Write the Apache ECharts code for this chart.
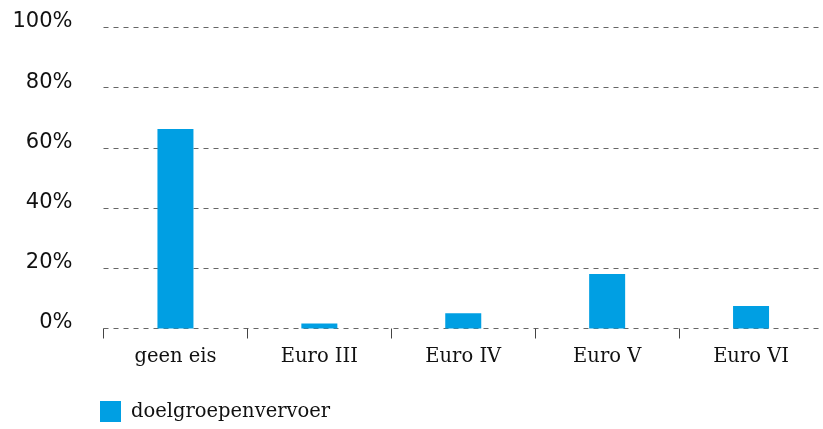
<!DOCTYPE html>
<html>
<head>
<meta charset="utf-8">
<script src="https://cdn.jsdelivr.net/npm/echarts@6/dist/echarts.min.js"></script>
<style>
  html, body { margin: 0; padding: 0; background: #fff; }
  #chart { width: 823px; height: 429px; }
</style>
</head>
<body>
<div id="chart"></div>
<script>
// categorieën en waarden (% van voertuigen)
var categories = ['geen eis', 'Euro III', 'Euro IV', 'Euro V', 'Euro VI'];
var seriesName = 'doelgroepenvervoer';
var values = [66.3, 1.7, 5.1, 18.1, 7.5];
var yTicks = [0, 20, 40, 60, 80, 100];

var chart = echarts.init(document.getElementById('chart'), null, { renderer: 'canvas' });

var option = {
  animation: false,
  backgroundColor: '#ffffff',
  grid: {
    left: 103.5,
    top: 27.5,
    width: 725,
    height: 301
  },
  legend: {
    left: 100,
    top: 401,
    padding: 0,
    itemWidth: 21,
    itemHeight: 21,
    icon: 'rect',
    data: [seriesName],
    textStyle: {
      fontFamily: 'DejaVu Serif',
      fontSize: 19.5,
      color: '#111',
      padding: [0, 0, 0, 5]
    }
  },
  xAxis: {
    type: 'category',
    data: categories,
    axisLine: { show: false },
    axisTick: {
      show: true,
      length: 10,
      lineStyle: { color: '#444', width: 1 }
    },
    axisLabel: {
      margin: 18,
      fontFamily: 'DejaVu Serif',
      fontSize: 19.5,
      color: '#111'
    }
  },
  yAxis: {
    type: 'value',
    min: yTicks[0],
    max: yTicks[yTicks.length - 1],
    interval: 20,
    axisLine: { show: false },
    axisTick: { show: false },
    splitLine: {
      show: true,
      lineStyle: { color: '#666', width: 1, type: [5, 5] }
    },
    axisLabel: {
      margin: 31,
      fontFamily: 'DejaVu Sans',
      fontSize: 21,
      color: '#111',
      verticalAlign: 'bottom',
      lineHeight: 11,
      formatter: '{value}%'
    }
  },
  series: [{
    name: seriesName,
    type: 'bar',
    data: values,
    barWidth: 36,
    itemStyle: { color: '#009fe3' }
  }]
};

chart.setOption(option);
</script>
</body>
</html>
